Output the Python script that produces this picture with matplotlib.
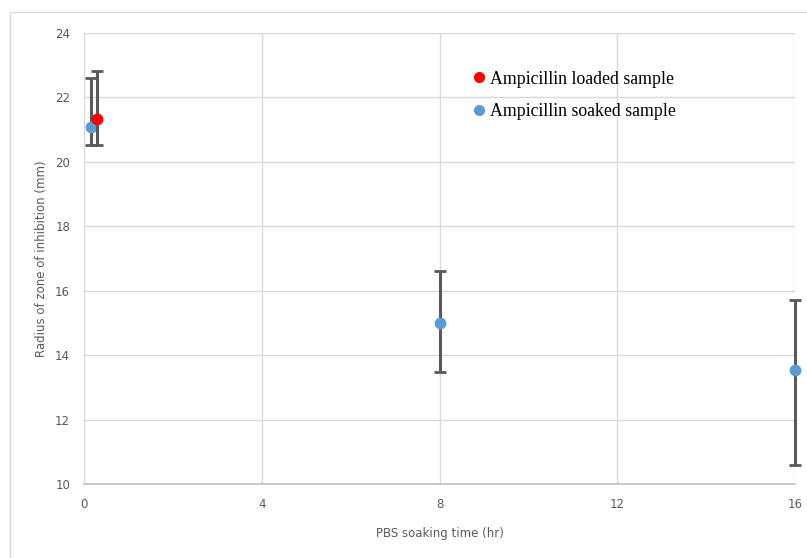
import matplotlib
matplotlib.use("Agg")
import matplotlib.pyplot as plt
from matplotlib.patches import Rectangle
from matplotlib.lines import Line2D

loaded_x = [0.3]
loaded_y = [21.33]
loaded_err = [[0.81], [1.49]]

soaked_x = [0.15, 8, 16]
soaked_y = [21.08, 15.0, 13.53]
soaked_err = [[0.56, 1.53, 2.95], [1.52, 1.6, 2.18]]

x_ticks = [0, 4, 8, 12, 16]
y_ticks = [10, 12, 14, 16, 18, 20, 22, 24]

fig = plt.figure(figsize=(8.07, 5.58), dpi=100)
fig.patches.append(Rectangle((10/807, -0.05), 1.1, 1 - 12/558 + 0.05, transform=fig.transFigure,
                             fill=False, edgecolor="#d9d9d9", linewidth=1.0))
ax = fig.add_axes([84/807, 1 - 484/558, (795 - 84)/807, (484 - 33)/558])

tick_font = {"family": "DejaVu Sans", "size": 8.5, "color": "#595959"}
err_color = "#595959"

for xs, ys, errs, col, z in [(soaked_x, soaked_y, soaked_err, "#5b9bd5", 3),
                             (loaded_x, loaded_y, loaded_err, "#ff0000", 4)]:
    cont = ax.errorbar(xs, ys, yerr=errs, fmt="o", color=col, markersize=7.5,
                       ecolor=err_color, elinewidth=2.2, capsize=4, capthick=2, zorder=z)
    for art in [cont[0], *cont[1], *cont[2]]:
        art.set_clip_on(False)

ax.set_xlim(0, 16)
ax.set_ylim(10, 24)
ax.set_xticks(x_ticks)
ax.set_yticks(y_ticks)
ax.set_xticklabels([str(t) for t in x_ticks], fontdict=tick_font)
ax.set_yticklabels([str(t) for t in y_ticks], fontdict=tick_font)
ax.tick_params(axis="x", length=0, pad=10)
ax.tick_params(axis="y", length=0, pad=10)
ax.grid(True, color="#d9d9d9", linewidth=1.0)
ax.set_axisbelow(True)
for s in ["top", "right", "left"]:
    ax.spines[s].set_visible(False)
ax.spines["bottom"].set_color("#bfbfbf")
ax.spines["bottom"].set_linewidth(1.2)

ax.set_xlabel("PBS soaking time (hr)", fontsize=8.5, color="#595959")
ax.set_ylabel("Radius of zone of inhibition (mm)", fontsize=8.5, color="#595959")
ax.xaxis.set_label_coords(0.5, (484 - 533) / 451, transform=ax.transAxes)
ax.yaxis.set_label_coords((42 - 84) / 711, 0.5, transform=ax.transAxes)
ax.xaxis.label.set_va("center")
ax.yaxis.label.set_va("center")

handles = [Line2D([], [], marker="o", linestyle="", color="#ff0000", markersize=7),
           Line2D([], [], marker="o", linestyle="", color="#5b9bd5", markersize=7)]
ax.legend(handles, ["Ampicillin loaded sample", "Ampicillin soaked sample"],
          loc="upper left", bbox_to_anchor=(0.52, 0.952), frameon=False,
          prop={"family": "Liberation Serif", "size": 12.8}, handletextpad=0.15,
          handlelength=1.0, labelspacing=0.85)

fig.savefig("out.png", dpi=100)
